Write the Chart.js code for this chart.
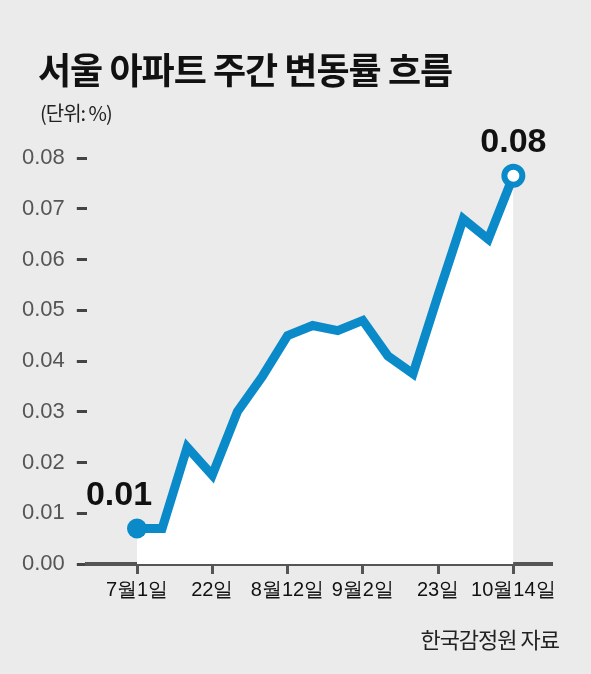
<!DOCTYPE html>
<html><head><meta charset="utf-8">
<script src="https://cdn.jsdelivr.net/npm/chart.js@4"></script>
<style>
body{margin:0;background:#ebebeb;}
#wrap{position:relative;width:591px;height:674px;}
#c{position:absolute;left:0;top:0;}
#title{position:absolute;left:38px;top:42px;font:bold 36px "Noto Sans CJK KR";color:#111;letter-spacing:-1px;}
#sub{position:absolute;left:40px;top:98px;font:20px "Noto Sans CJK KR";color:#222;letter-spacing:-1px;}
#src{position:absolute;right:32px;top:622px;font:22px "Noto Sans CJK KR";color:#222;letter-spacing:-1px;}
</style></head><body>
<div id="wrap"><canvas id="c" width="591" height="674"></canvas>
<div id="title">서울 아파트 주간 변동률 흐름</div><div id="sub">(단위: %)</div>
<div id="src">한국감정원 자료</div></div>
<script>
// 주간 변동률 (7/1 ~ 10/14)
const weekIdx = [0,1,2,3,4,5,6,7,8,9,10,11,12,13,14,15];
const rates = [0.007,0.007,0.023,0.0175,0.030,0.037,0.045,0.047,0.046,0.048,0.041,0.0375,0.053,0.068,0.064,0.0765];
const tickIdx = [0,3,6,9,12,15];
const tickLabels = ["7월1일","22일","8월12일","9월2일","23일","10월14일"];
const callouts = {0:"0.01",15:"0.08"};
const BLUE = "#0a8ac8";
const NARROW = "'Liberation Sans Narrow', 'Liberation Sans'";

const calloutPlugin = {
	id: "callouts",
	afterDatasetsDraw(chart) {
		const ctx = chart.ctx;
		const pts = chart.getDatasetMeta(0).data;
		ctx.save();
		ctx.font = "bold 34px " + NARROW;
		ctx.fillStyle = "#111";
		ctx.textAlign = "center";
		ctx.textBaseline = "bottom";
		Object.keys(callouts).forEach((i) => {
			const p = pts[i];
			const dx = i == 0 ? -18 : 0;
			ctx.fillText(callouts[i], p.x + dx, p.y - 16);
		});
		ctx.restore();
	},
};

new Chart(document.getElementById("c"), {
	type: "line",
	data: {
		datasets: [{
			data: weekIdx.map((x, i) => ({ x: x, y: rates[i] })),
			borderColor: BLUE,
			borderWidth: 9,
			backgroundColor: "#ffffff",
			fill: "origin",
			tension: 0,
			pointRadius: (c) => (c.dataIndex === 0 ? 10 : c.dataIndex === 15 ? 9 : 0),
			pointBackgroundColor: (c) => (c.dataIndex === 15 ? "#fff" : BLUE),
			pointBorderColor: BLUE,
			pointBorderWidth: (c) => (c.dataIndex === 15 ? 6 : 0),
			clip: false,
		}],
	},
	options: {
		responsive: false,
		animation: false,
		layout: { padding: { left: 10, right: 40, bottom: 68, top: 158 } },
		plugins: {
			legend: { display: false },
			tooltip: { enabled: false },
		},
		scales: {
			x: {
				type: "linear", min: -2, max: 16.5,
				afterBuildTicks: (s) => { s.ticks = tickIdx.map((v) => ({ value: v })); },
				ticks: {
					callback: (v) => tickLabels[tickIdx.indexOf(v)],
					autoSkip: false,
					color: "#111", font: { family: NARROW, size: 20 }, padding: 4, maxRotation: 0,
				},
				grid: { drawOnChartArea: false, color: "#555", lineWidth: 3, tickLength: 10 },
				border: { color: "#555", width: 4 },
			},
			y: {
				min: 0, max: 0.08,
				afterBuildTicks: (s) => { s.ticks = [0,1,2,3,4,5,6,7,8].map((v) => ({ value: v / 100 })); },
				ticks: {
					callback: (v) => v.toFixed(2),
					color: "#555", font: { family: NARROW, size: 22 }, padding: 12,
				},
				grid: { drawOnChartArea: false, color: "#444", lineWidth: 3, tickLength: 10 },
				border: { display: false },
			},
		},
	},
	plugins: [calloutPlugin],
});
</script>
</body></html>
